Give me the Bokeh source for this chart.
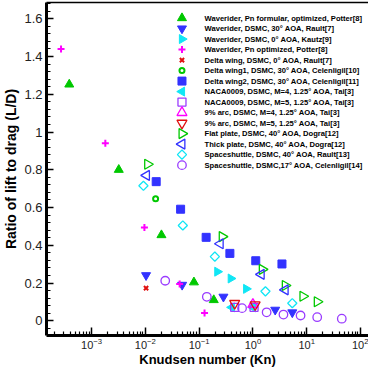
import numpy as np
from bokeh.plotting import figure
from bokeh.models import Range1d, LinearScale, FixedTicker, LogAxis, LogTickFormatter, ColumnDataSource
from bokeh.embed import file_html
from bokeh.resources import INLINE
from bokeh.core.properties import value

# ---------------- data ----------------
labels = [
    "Waverider, Pn formular, optimized, Potter[8]",
    "Waverider, DSMC, 30° AOA, Rault[7]",
    "Waverider, DSMC, 0° AOA, Kautz[9]",
    "Waverider, Pn optimized, Potter[8]",
    "Delta wing, DSMC, 0° AOA, Rault[7]",
    "Delta wing1, DSMC, 30° AOA, Celenligil[10]",
    "Delta wing2, DSMC, 30° AOA, Celenligil[11]",
    "NACA0009, DSMC, M=4, 1.25° AOA, Tai[3]",
    "NACA0009, DSMC, M=5, 1.25° AOA, Tai[3]",
    "9% arc, DSMC, M=4, 1.25° AOA, Tai[3]",
    "9% arc, DSMC, M=5, 1.25° AOA, Tai[3]",
    "Flat plate, DSMC, 40° AOA, Dogra[12]",
    "Thick plate, DSMC, 40° AOA, Dogra[12]",
    "Spaceshuttle, DSMC, 40° AOA, Rault[13]",
    "Spaceshuttle, DSMC,17° AOA, Celenligil[14]",
]

wr_pn_formular_kn = [3.84e-4, 3.2e-3, 0.0199, 0.080, 0.187]
wr_pn_formular_ld = [1.252, 0.80, 0.454, 0.204, 0.110]

wr_dsmc30_kn = [0.0103, 0.0483, 0.283, 2.6, 5.4]
wr_dsmc30_ld = [0.241, 0.190, 0.127, 0.058, 0.044]

wr_kautz_kn = [0.218, 0.388, 0.75]
wr_kautz_ld = [0.260, 0.224, 0.169]

wr_pn_opt_kn = [2.7e-4, 1.8e-3, 0.0096, 0.0434, 0.126]
wr_pn_opt_ld = [1.44, 0.94, 0.494, 0.195, 0.041]

dw_rault_kn = [0.0103]
dw_rault_ld = [0.173]

dw1_kn = [0.0155]
dw1_ld = [0.647]

dw2_kn = [0.0159, 0.0452, 0.135, 0.373, 1.13, 3.47]
dw2_ld = [0.737, 0.591, 0.442, 0.357, 0.318, 0.301]

naca_m4_kn = [0.405, 1.0]
naca_m4_ld = [0.071, 0.071]

naca_m5_kn = [0.458, 1.05]
naca_m5_ld = [0.071, 0.071]

arc_m4_kn = [1.0]
arc_m4_ld = [0.087]

arc_m5_kn = [0.458, 1.1]
arc_m5_ld = [0.092, 0.085]

flat_kn = [0.011, 0.268, 1.49, 3.99, 8.5, 15.7]
flat_ld = [0.829, 0.446, 0.272, 0.187, 0.130, 0.101]

thick_kn = [0.0105, 0.247, 1.43, 3.99]
thick_ld = [0.770, 0.408, 0.246, 0.164]

shuttle40_kn = [0.0092, 0.0497, 0.196, 1.71, 5.4]
shuttle40_ld = [0.715, 0.505, 0.340, 0.156, 0.093]

shuttle17_kn = [0.0234, 0.139, 0.628, 1.8, 3.7, 7.7, 15.7, 45.0]
shuttle17_ld = [0.212, 0.127, 0.067, 0.045, 0.033, 0.028, 0.019, 0.011]

x_tick_values = [1e-3, 1e-2, 1e-1, 1.0, 10.0, 100.0]   # shown as 10^-3 ... 10^2
y_tick_values = [0.0, 0.2, 0.4, 0.6, 0.8, 1.0, 1.2, 1.4, 1.6]
y_tick_labels = ["0", "0.2", "0.4", "0.6", "0.8", "1", "1.2", "1.4", "1.6"]
x_title = "Knudsen number (Kn)"
y_title = "Ratio of lift to drag (L/D)"

# ---------------- styles ----------------
GREEN = "#00c800"
BLUE = "#3232ff"
CYAN = "#10e6f5"
MAGENTA = "#ff00ff"
RED = "#e01010"
PURPLE = "#9a3cff"
R = -np.pi / 2   # right-pointing triangle
L = np.pi / 2    # left-pointing triangle
D = np.pi / 4    # diamond (rotated square)

series = [
    (wr_pn_formular_kn, wr_pn_formular_ld, dict(marker="triangle", size=9, angle=0, fill=GREEN, line=GREEN, lw=1)),
    (wr_dsmc30_kn, wr_dsmc30_ld, dict(marker="inverted_triangle", size=9, angle=0, fill=BLUE, line=BLUE, lw=1)),
    (wr_kautz_kn, wr_kautz_ld, dict(marker="triangle", size=9, angle=R, fill=CYAN, line=CYAN, lw=1)),
    (wr_pn_opt_kn, wr_pn_opt_ld, dict(marker="cross", size=7, angle=0, fill=None, line=MAGENTA, lw=2)),
    (dw_rault_kn, dw_rault_ld, dict(marker="x", size=6, angle=0, fill=None, line=RED, lw=2)),
    (dw1_kn, dw1_ld, dict(marker="circle", size=5, angle=0, fill=None, line=GREEN, lw=2)),
    (dw2_kn, dw2_ld, dict(marker="square", size=8, angle=0, fill=BLUE, line=BLUE, lw=1)),
    (naca_m4_kn, naca_m4_ld, dict(marker="triangle", size=9, angle=L, fill=CYAN, line=CYAN, lw=1)),
    (naca_m5_kn, naca_m5_ld, dict(marker="square", size=8, angle=0, fill=None, line=PURPLE, lw=1.3)),
    (arc_m4_kn, arc_m4_ld, dict(marker="triangle", size=10, angle=0, fill=None, line=MAGENTA, lw=1.3)),
    (arc_m5_kn, arc_m5_ld, dict(marker="inverted_triangle", size=10, angle=0, fill=None, line=RED, lw=1.3)),
    (flat_kn, flat_ld, dict(marker="triangle", size=10, angle=R, fill=None, line=GREEN, lw=1.3)),
    (thick_kn, thick_ld, dict(marker="triangle", size=10, angle=L, fill=None, line=BLUE, lw=1.3)),
    (shuttle40_kn, shuttle40_ld, dict(marker="square", size=6.5, angle=D, fill=None, line=CYAN, lw=1.3)),
    (shuttle17_kn, shuttle17_ld, dict(marker="circle", size=8.5, angle=0, fill=None, line=PURPLE, lw=1.3)),
]

FONT = "Liberation Sans"

W, H = 368, 369
BL, BR, BT, BB = 40, 0, 2, 31
FW = W - BL - BR            # frame width in px
FH = H - BT - BB            # frame height in px (approx.)
x_lo = -3.839
x_hi = 2.15

p = figure(width=W, height=H, x_axis_type="log",
           x_range=Range1d(10 ** x_lo, 10 ** x_hi),
           y_range=Range1d(-0.078, 1.686),
           output_backend="svg", toolbar_location=None,
           min_border_left=BL, min_border_right=BR,
           min_border_top=BT, min_border_bottom=BB)
p.outline_line_color = None
p.xgrid.visible = False
p.ygrid.visible = False
p.background_fill_color = "white"
p.border_fill_color = "white"

# pixel-space ranges for the in-plot legend (origin at the frame's top-left)
p.extra_x_ranges = {"px": Range1d(0, FW)}
p.extra_y_ranges = {"py": Range1d(-FH, 0)}
p.extra_x_scales = {"px": LinearScale()}
p.extra_y_scales = {"py": LinearScale()}

# x axis
minor_x = [k * 10.0 ** e for e in range(-4, 3) for k in range(2, 10)]
xa = p.xaxis[0]
xa.ticker = FixedTicker(ticks=x_tick_values, minor_ticks=minor_x)
xa.formatter = LogTickFormatter()
xa.axis_line_width = 3
xa.axis_line_color = "black"
xa.major_tick_in = 8
xa.major_tick_out = 0
xa.minor_tick_in = 4
xa.minor_tick_out = 0
xa.major_tick_line_width = 1.5
xa.minor_tick_line_width = 1.2
xa.major_tick_line_color = "black"
xa.minor_tick_line_color = "black"
xa.major_label_text_font = FONT
xa.major_label_text_font_size = "11px"
xa.major_label_text_color = "#222222"
xa.major_label_standoff = 2
xa.axis_label = x_title
xa.axis_label_text_font = FONT
xa.axis_label_text_font_size = "13px"
xa.axis_label_text_font_style = "bold"
xa.axis_label_text_color = "black"
xa.axis_label_standoff = 0

# y axis
minor_y = [round(-0.04 + 0.04 * k, 2) for k in range(45)]
ya = p.yaxis[0]
ya.ticker = FixedTicker(ticks=y_tick_values, minor_ticks=minor_y)
ya.major_label_overrides = dict(zip(y_tick_values, y_tick_labels))
ya.axis_line_width = 3
ya.axis_line_color = "black"
ya.major_tick_in = 7
ya.major_tick_out = 0
ya.minor_tick_in = 4
ya.minor_tick_out = 0
ya.major_tick_line_width = 1.5
ya.minor_tick_line_width = 1.2
ya.major_tick_line_color = "black"
ya.minor_tick_line_color = "black"
ya.major_label_text_font = FONT
ya.major_label_text_font_size = "13px"
ya.major_label_text_color = "#222222"
ya.major_label_standoff = 4
ya.axis_label = y_title
ya.axis_label_text_font = FONT
ya.axis_label_text_font_size = "14px"
ya.axis_label_text_font_style = "bold"
ya.axis_label_text_color = "black"
ya.axis_label_standoff = 2

# top frame line
top_axis = LogAxis(ticker=FixedTicker(ticks=[]), major_label_text_font_size="0px",
                   major_tick_in=0, major_tick_out=0, minor_tick_in=0, minor_tick_out=0,
                   axis_line_width=1.5, major_label_standoff=0)
p.add_layout(top_axis, "above")

# data points
for xs, ys, st in series:
    p.scatter(xs, ys, marker=st["marker"], size=st["size"], angle=st["angle"],
              fill_color=st["fill"], line_color=st["line"], line_width=st["lw"])

# legend (drawn in pixel space inside the frame, measured from the frame's top-left)
leg_glyph_x = 138
leg_text_x = 161
leg_first = -15.7
leg_step = 10.6
leg_y = [leg_first - i * leg_step for i in range(len(labels))]
for (xs, ys, st), yy in zip(series, leg_y):
    p.scatter([leg_glyph_x], [yy], x_range_name="px", y_range_name="py",
              marker=st["marker"], size=st["size"], angle=st["angle"],
              fill_color=st["fill"], line_color=st["line"], line_width=st["lw"])
leg_src = ColumnDataSource(dict(x=[leg_text_x] * len(labels), y=leg_y, text=labels))
p.text(x="x", y="y", text="text", source=leg_src, x_range_name="px", y_range_name="py",
       text_font=value(FONT), text_font_size="7.6px", text_font_style="bold",
       text_baseline="middle", text_align="left", text_color="black")

open("out.html", "w").write(file_html(p, INLINE))
